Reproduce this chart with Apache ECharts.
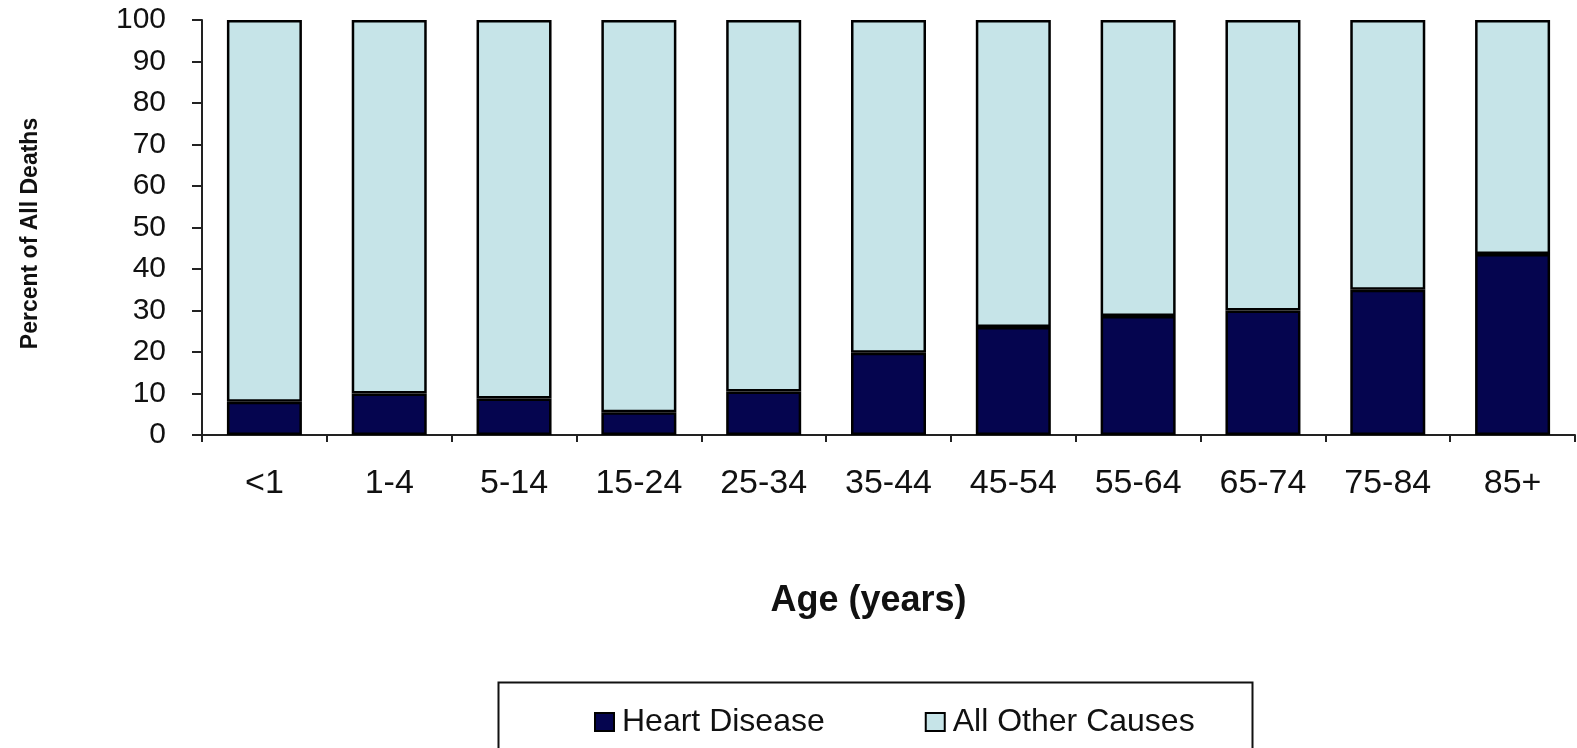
<!DOCTYPE html>
<html>
<head>
<meta charset="utf-8">
<script src="https://cdn.jsdelivr.net/npm/echarts@6/dist/echarts.min.js"></script>
<style>
html,body{margin:0;padding:0;background:#fff;}
#chart{width:1577px;height:748px;}
</style>
</head>
<body>
<div id="chart"></div>
<script>
const categories = ['<1','1-4','5-14','15-24','25-34','35-44','45-54','55-64','65-74','75-84','85+'];
const heartDisease = [8, 10, 8.8, 5.5, 10.5, 19.8, 26, 28.7, 30, 35, 43.6];
const otherCauses = [92, 90, 91.2, 94.5, 89.5, 80.2, 74, 71.3, 70, 65, 56.4];
const yTicks = [0,10,20,30,40,50,60,70,80,90,100];

const FONT = '"Liberation Sans", Arial, sans-serif';
const chart = echarts.init(document.getElementById('chart'), null, {renderer:'canvas'});
chart.setOption({
  animation:false,
  backgroundColor:'#fff',
  grid:{left:202, right:2, top:20, bottom:313, containLabel:false},
  legend:{
    left:589, top:701, itemWidth:19, itemHeight:18, itemGap:100, icon:'rect',
    textStyle:{fontFamily:FONT, fontSize:32, color:'#111', padding:[0,0,0,3]},
    data:['Heart Disease','All Other Causes']
  },
  graphic:[{
    type:'rect', left:496, top:680, silent:true,
    shape:{width:754, height:100},
    style:{fill:'none', stroke:'#111', lineWidth:2}
  }],
  xAxis:{
    type:'category', data:categories,
    name:'Age (years)', nameLocation:'middle', nameGap:148,
    nameTextStyle:{fontFamily:FONT, fontSize:36, fontWeight:'bold', color:'#111', padding:[0,40,0,0]},
    axisLine:{lineStyle:{color:'#222', width:2}},
    axisTick:{show:true, length:7, lineStyle:{color:'#222', width:2}},
    axisLabel:{fontFamily:FONT, fontSize:34, color:'#111', margin:32, interval:0}
  },
  yAxis:{
    type:'value', min:0, max:100, interval:10,
    name:'Percent of All Deaths', nameLocation:'middle', nameGap:160, nameRotate:90,
    nameTextStyle:{fontFamily:FONT, fontSize:23, fontWeight:'bold', color:'#111', padding:[0,12,0,0]},
    axisLine:{show:true, lineStyle:{color:'#222', width:2}},
    axisTick:{show:true, length:10, lineStyle:{color:'#222', width:2}},
    axisLabel:{fontFamily:FONT, fontSize:30, color:'#111', margin:36,
      formatter:function(v){return yTicks.indexOf(v)>=0 ? String(v) : '';}},
    splitLine:{show:false}
  },
  series:[
    {name:'Heart Disease', type:'bar', stack:'total', data:heartDisease, barWidth:75,
     itemStyle:{color:'#05054f', borderColor:'#000', borderWidth:2.5}},
    {name:'All Other Causes', type:'bar', stack:'total', data:otherCauses, barWidth:75,
     itemStyle:{color:'#c6e4e8', borderColor:'#000', borderWidth:2.5}}
  ]
});
</script>
</body>
</html>
